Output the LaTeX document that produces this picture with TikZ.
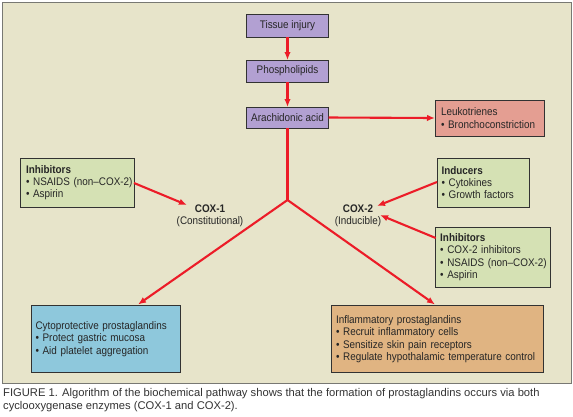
\documentclass[tikz,border=0pt]{standalone}
\usepackage{fontspec}
\setmainfont{Liberation Sans}[FakeStretch=0.9]
\newfontfamily\capfont{Liberation Sans}
\usetikzlibrary{arrows.meta,calc}
\definecolor{panelbg}{RGB}{231,228,202}
\definecolor{panelline}{RGB}{120,120,115}
\definecolor{purplebox}{RGB}{178,160,210}
\definecolor{salmonbox}{RGB}{228,158,146}
\definecolor{greenbox}{RGB}{213,225,180}
\definecolor{bluebox}{RGB}{142,200,220}
\definecolor{orangebox}{RGB}{224,180,130}
\definecolor{arrowred}{RGB}{236,28,40}
\definecolor{boxline}{RGB}{50,50,50}
\newcommand{\bitem}[1]{\mbox{\textbullet~#1}}
\tikzset{
  basebox/.style={draw=boxline, line width=1pt, inner sep=0pt, outer sep=0pt,
    font=\fontsize{11}{12.3}\selectfont, text=black!85},
  stepbox/.style={basebox, fill=purplebox, minimum width=82pt, minimum height=23pt, align=center},
  listbox/.style={basebox, align=left, inner xsep=5pt},
  flow/.style={draw=arrowred, line width=2.1pt, -{Latex[length=8pt,width=6.5pt]}},
  flowline/.style={draw=arrowred, line width=2.1pt},
  coxlabel/.style={font=\fontsize{11}{12.5}\selectfont, align=center, inner sep=1pt, text=black!85}
}
\begin{document}
\begin{tikzpicture}[x=1pt,y=-1pt]
\useasboundingbox (0,0) rectangle (573,416);
\fill[white] (0,0) rectangle (573,416);
\draw[panelline, fill=panelbg, line width=0.8pt] (2,2) rectangle (571,383);

\node[stepbox] (tissue) at (287.5,25.5) {Tissue injury};
\node[stepbox, minimum height=22pt] (phos) at (287.5,71) {Phospholipids};
\node[stepbox, minimum height=21pt] (arach) at (287.5,117.5) {Arachidonic acid};

\node[listbox, fill=salmonbox, text width=97pt, inner xsep=6pt, minimum height=36pt] (leuk) at (489.5,118)
  {Leukotrienes\\\bitem{Bronchoconstriction}};

\node[listbox, fill=greenbox, text width=102pt, inner xsep=6pt, minimum height=49pt] (inhL) at (77,182.5)
  {\textbf{Inhibitors}\\\bitem{NSAIDS (non\textendash COX-2)}\\\bitem{Aspirin}};

\node[listbox, fill=greenbox, text width=83pt, inner xsep=4.5pt, minimum height=49pt] (induc) at (483,182.5)
  {\textbf{Inducers}\\\bitem{Cytokines}\\\bitem{Growth factors}};

\node[listbox, fill=greenbox, text width=106pt, inner xsep=4.5pt, minimum height=60pt] (inhR) at (493.2,257)
  {\textbf{Inhibitors}\\\bitem{COX-2 inhibitors}\\\bitem{NSAIDS (non\textendash COX-2)}\\\bitem{Aspirin}\\[3pt]};

\node[listbox, fill=bluebox, text width=140pt, inner xsep=4.5pt, minimum height=67pt] (cyto) at (105.5,339)
  {Cytoprotective prostaglandins\\\bitem{Protect gastric mucosa}\\\bitem{Aid platelet aggregation}};

\node[listbox, fill=orangebox, text width=203pt, inner xsep=4.5pt, minimum height=67pt] (inflam) at (437.5,339)
  {Inflammatory prostaglandins\\\bitem{Recruit inflammatory cells}\\\bitem{Sensitize skin pain receptors}\\\bitem{Regulate hypothalamic temperature control}};

\node[coxlabel] (cox1) at (210,216) {\textbf{COX-1}\\(Constitutional)};
\node[coxlabel] (cox2) at (358,216) {\textbf{COX-2}\\(Inducible)};

\coordinate (junc) at (287.5,200);
\coordinate (c1in) at (187,205);
\coordinate (c2a) at (377,206);
\coordinate (c2b) at (380,215);
\coordinate (cytoin) at (138,304.5);
\coordinate (inflin) at (435,304.5);

\draw[flow] (tissue.south) -- (phos.north);
\draw[flow] (phos.south) -- (arach.north);
\draw[flow] (arach.east) -- (leuk.west);
\draw[flowline] (arach.south) -- (junc);
\draw[flow] (junc) -- (cytoin);
\draw[flow] (junc) -- (inflin);
\draw[flow] (inhL.east |- 0,183) -- (c1in);
\draw[flow] (induc.west |- 0,182) -- (c2a);
\draw[flow] (inhR.west |- 0,238) -- (c2b);

\node[anchor=north west, inner sep=0pt, align=left, font=\capfont\fontsize{11.2}{13}\selectfont, text=black!80] (caption) at (3,388.5)
  {FIGURE 1. Algorithm of the biochemical pathway shows that the formation of prostaglandins occurs via both\\cyclooxygenase enzymes (COX-1 and COX-2).};
\end{tikzpicture}
\end{document}
